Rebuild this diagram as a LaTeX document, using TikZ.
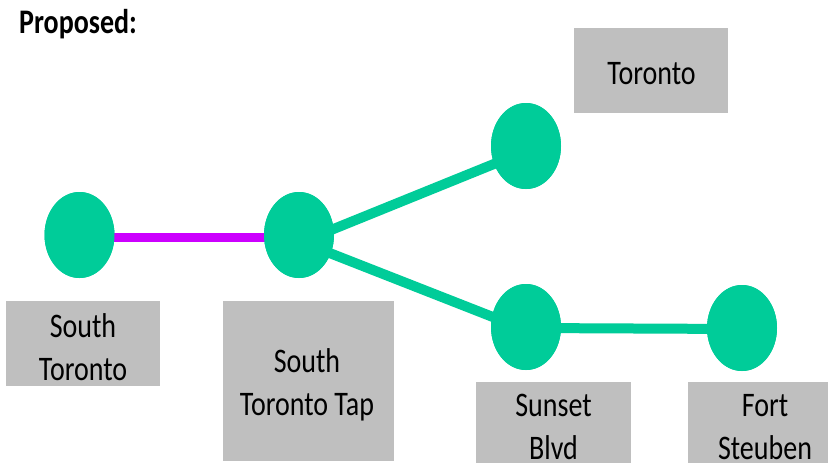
\documentclass[tikz,border=0pt]{standalone}
\usepackage{fontspec}
\setmainfont{Carlito}
\usetikzlibrary{shapes.geometric}
\definecolor{stgreen}{RGB}{0,204,153}
\definecolor{stpurple}{RGB}{204,0,255}
\definecolor{boxgray}{RGB}{191,191,191}
\begin{document}
\begin{tikzpicture}[x=1pt,y=-1pt,
  station/.style={ellipse, fill=stgreen, draw=none, minimum width=70pt, minimum height=86pt, inner sep=0pt},
  greenline/.style={draw=stgreen, line width=10pt},
  purpleline/.style={draw=stpurple, line width=9pt},
  graybox/.style={fill=boxgray, draw=none},
  lbl/.style={font=\fontsize{28}{35}\selectfont, align=center, yscale=1.23, inner sep=0pt, text=black}]
\useasboundingbox (0,0) rectangle (828,463);
\clip (0,0) rectangle (828,463);
\fill[white] (0,0) rectangle (828,463);

% label boxes
\path[graybox] (6,301) rectangle (160,386);
\path[graybox] (223,301) rectangle (394,461);
\path[graybox] (574,28) rectangle (728,113);
\path[graybox] (476,382) rectangle (631,470);
\path[graybox] (688,382) rectangle (835,470);

% stations
\node[station] (st) at (79.5,235) {};
\node[station] (tap) at (299,235) {};
\node[station] (tor) at (526,146) {};
\node[station] (sun) at (526,327) {};
\node[station] (fort) at (742,328) {};

% connectors
\path[purpleline] ([yshift=-2pt]st.center) -- ([yshift=-2pt]tap.center);
\path[greenline] ([yshift=-8pt]tap.center) -- ([yshift=-5pt]tor.center);
\path[greenline] ([yshift=-6pt]tap.center) -- ([yshift=-3pt]sun.center);
\path[greenline] ([yshift=-1pt]sun.center) -- ([yshift=-1pt]fort.center);
% redraw station discs over the line ends
\node[station] at (st.center) {};
\node[station] at (tap.center) {};
\node[station] at (tor.center) {};
\node[station] at (sun.center) {};
\node[station] at (fort.center) {};

% texts
\node[lbl, font=\fontsize{28}{35}\selectfont\bfseries, anchor=base west] (title) at (19,33) {Proposed:};
\node[lbl] (lst) at (83,347) {South\\Toronto};
\node[lbl] (ltap) at (307,385) {South\\Toronto Tap};
\node[lbl] (ltor) at (651.5,73.5) {Toronto};
\node[lbl] (lsun) at (553.5,427) {Sunset\\Blvd};
\node[lbl] (lfort) at (765,427) {Fort\\Steuben};
\end{tikzpicture}
\end{document}
